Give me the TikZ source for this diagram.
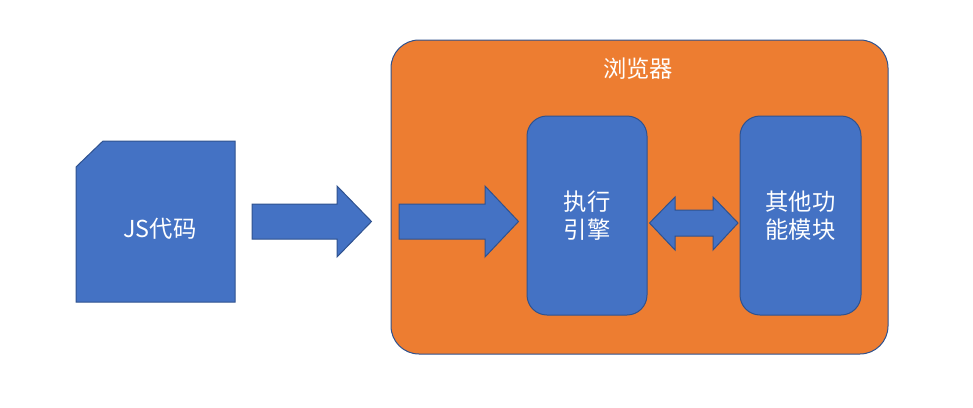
\documentclass[tikz,border=0pt]{standalone}
\usepackage{fontspec}
\setmainfont{Noto Sans CJK SC}
\usepackage{tikz}
\usetikzlibrary{calc}
\definecolor{blockblue}{HTML}{4472C4}
\definecolor{blockorange}{HTML}{ED7D31}
\definecolor{edgeblue}{HTML}{2F528F}

\begin{document}
\begin{tikzpicture}[x=0.75pt, y=-0.75pt,
		block/.style={fill=blockblue, draw=edgeblue, line width=0.75pt},
		blocktext/.style={text=white, font=\fontsize{17.5}{21}\selectfont, align=center}]
	\useasboundingbox (0,0) rectangle (973,407);
	% browser frame
	\node[block, fill=blockorange, rounded corners=21pt, minimum width=372.75pt, minimum height=235.5pt] (browser) at (639.5,197) {};
	\node[blocktext] (title) at (638,69) {浏览器};
	% js source
	\draw[block] (76,167) -- (103,141) -- (235,141) -- (235,302) -- (76,302) -- cycle;
	\node[blocktext] (js) at (160,229) {JS代码};
	% inner modules
	\node[block, blocktext, rounded corners=15pt, minimum width=90pt, minimum height=149.25pt] (engine) at (587,215.5) {执行\\引擎};
	\node[block, blocktext, rounded corners=15pt, minimum width=90.75pt, minimum height=149.25pt] (other) at (800.5,215.5) {其他功\\能模块};
	% block arrows
	\draw[block] (252,204) -- (337,204) -- (337,186) -- ($(browser.west)+(-19,24.5)$) -- (337,257) -- (337,239) -- (252,239) -- cycle;
	\draw[block] (399,204) -- (485,204) -- (485,186) -- ($(engine.west)+(-8,6)$) -- (485,257) -- (485,239) -- (399,239) -- cycle;
	\draw[block] ($(engine.east)+(2,7.5)$) -- (675,197) -- (675,210) -- (713,210) -- (713,197) -- ($(other.west)+(-1.5,7.5)$) -- (713,250) -- (713,236) -- (675,236) -- (675,250) -- cycle;
\end{tikzpicture}
\end{document}
